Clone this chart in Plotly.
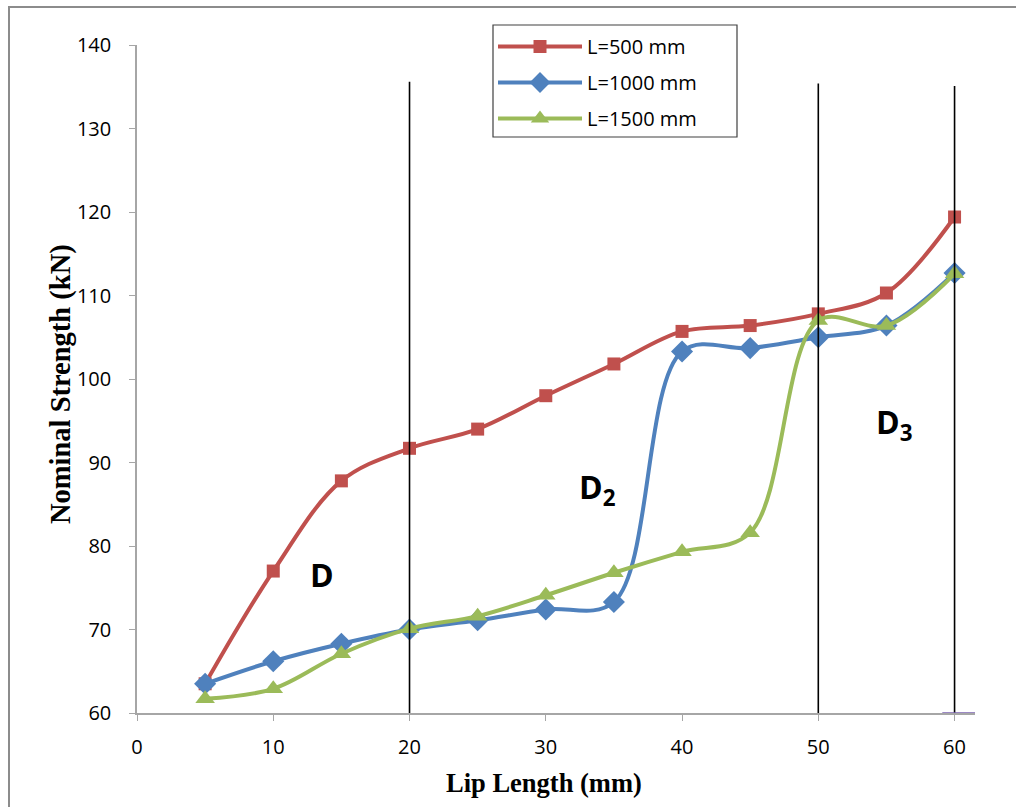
import plotly.graph_objects as go

lip_length = [5, 10, 15, 20, 25, 30, 35, 40, 45, 50, 55, 60]
strength_500 = [63.5, 77.0, 87.8, 91.7, 94.0, 98.0, 101.8, 105.7, 106.4, 107.8, 110.3, 119.4]
strength_1000 = [63.5, 66.2, 68.3, 70.0, 71.1, 72.4, 73.3, 103.3, 103.7, 105.0, 106.4, 112.7]
strength_1500 = [61.7, 62.9, 67.1, 70.1, 71.6, 74.1, 76.8, 79.3, 81.6, 107.0, 106.4, 112.6]

series_names = ["L=500 mm", "L=1000 mm", "L=1500 mm"]
series_colors = ["#C0504D", "#4F81BD", "#9BBB59"]
series_symbols = ["square", "diamond", "triangle-up"]
series_sizes = [13, 17, 17]

zone_bounds = [20, 50, 60]
zone_top = [135.6, 135.4, 135.1]

# plot area in pixels
L, R, T, B = 137, 41, 45, 94
W, H = 1016 - L - R, 807 - T - B


def px_x(p):
    return (p - L) / W


def px_y(p):
    return (807 - B - p) / H


fig = go.Figure()
for i, ys in enumerate([strength_500, strength_1000, strength_1500]):
    fig.add_trace(go.Scatter(
        x=lip_length, y=ys, name=series_names[i],
        mode="lines+markers",
        line=dict(color=series_colors[i], width=4, shape="spline", smoothing=1.0),
        marker=dict(color=series_colors[i], symbol=series_symbols[i], size=series_sizes[i]),
        legendgroup=str(i),
    ))

# zone boundary lines
for xb, yt in zip(zone_bounds, zone_top):
    fig.add_shape(type="line", x0=xb, x1=xb, y0=60, y1=yt, xref="x", yref="y",
                  line=dict(color="black", width=1.6), layer="above")

# short purple stroke on the axis at the right end
fig.add_shape(type="line", x0=59.1, x1=61.5, y0=60, y1=60, xref="x", yref="y",
              line=dict(color="#7B62B0", width=1.5), layer="above")

# outer chart frame
fig.add_shape(type="rect", xref="paper", yref="paper",
              x0=px_x(9), x1=1.2, y0=-0.2, y1=px_y(7),
              line=dict(color="#8C8C8C", width=2), fillcolor="rgba(0,0,0,0)")

# legend frame
fig.add_shape(type="rect", xref="paper", yref="paper",
              x0=px_x(493), x1=px_x(737), y0=px_y(137), y1=px_y(25),
              line=dict(color="#404040", width=1.2), fillcolor="rgba(0,0,0,0)",
              layer="above")

label_font = dict(family="Open Sans, Liberation Sans, sans-serif", size=32, color="black")
fig.add_annotation(x=13.6, y=76.6, text="<b>D</b>", showarrow=False, font=label_font)
fig.add_annotation(x=33.8, y=86.8, text="<b>D<sub>2</sub></b>", showarrow=False, font=label_font)
fig.add_annotation(x=55.6, y=94.6, text="<b>D<sub>3</sub></b>", showarrow=False, font=label_font)

# axis titles
serif = "Liberation Serif, Times New Roman, serif"
fig.add_annotation(xref="paper", yref="paper", x=px_x(61), y=px_y(384),
                   xanchor="center", yanchor="middle",
                   text="<b>Nominal Strength (kN)</b>", textangle=-90, showarrow=False,
                   font=dict(family=serif, size=28.5, color="black"))
fig.add_annotation(xref="paper", yref="paper", x=px_x(544), y=px_y(783),
                   xanchor="center", yanchor="middle",
                   text="<b>Lip Length (mm)</b>", showarrow=False,
                   font=dict(family=serif, size=26.5, color="black"))

tick_font = dict(family="Open Sans, Liberation Sans, sans-serif", size=20, color="black")

fig.update_xaxes(
    range=[0, 61.5], tickvals=[0, 10, 20, 30, 40, 50, 60],
    showline=True, linecolor="#A6A6A6", linewidth=1.5,
    ticks="outside", ticklen=6, tickcolor="#A6A6A6", ticklabelstandoff=9,
    showgrid=False, zeroline=False, tickfont=tick_font,
)
fig.update_yaxes(
    range=[60, 140], tickvals=[60, 70, 80, 90, 100, 110, 120, 130, 140],
    showline=True, linecolor="#A6A6A6", linewidth=1.5,
    ticks="outside", ticklen=6, tickcolor="#A6A6A6", ticklabelstandoff=14,
    showgrid=False, zeroline=False, tickfont=tick_font,
)

fig.update_layout(
    width=1016, height=807,
    margin=dict(l=L, r=R, t=T, b=B),
    paper_bgcolor="white", plot_bgcolor="white",
    showlegend=True,
    legend=dict(
        x=px_x(493), y=px_y(27), xanchor="left", yanchor="top",
        borderwidth=0, bgcolor="rgba(0,0,0,0)",
        font=dict(family="Open Sans, Liberation Sans, sans-serif", size=20, color="black"),
        tracegroupgap=7, traceorder="grouped", itemwidth=84,
    ),
)

fig.write_html("out.html")
